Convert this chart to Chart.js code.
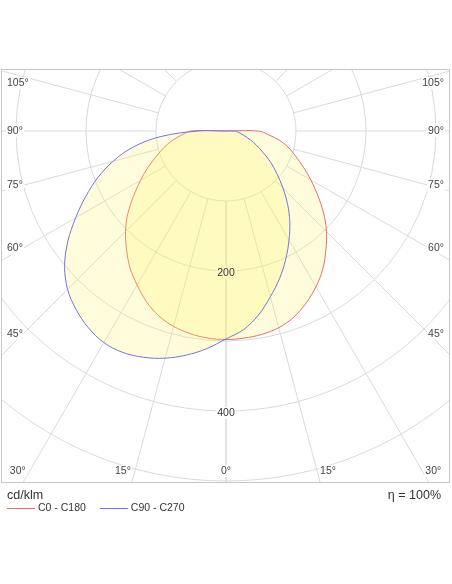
<!DOCTYPE html>
<html>
<head>
<meta charset="utf-8">
<script src="https://cdn.jsdelivr.net/npm/chart.js@4.4.0/dist/chart.umd.min.js"></script>
<style>
  html, body { margin: 0; padding: 0; background: #fff; }
  #wrap { width: 452px; height: 584px; }
</style>
</head>
<body>
<div id="wrap"><canvas id="ldc" width="452" height="584"></canvas></div>
<script>
/* gamma angle from nadir (deg) and luminous intensity (cd/klm) */
const gamma = [0, 5, 10, 15, 20, 25, 30, 35, 40, 45, 50, 55, 60, 65, 70, 75, 80, 85, 90];
const c0   = [298, 297, 295, 291, 283, 271, 257, 241, 222, 203, 182, 160, 140, 122, 106, 93, 78, 61, 46];
const c180 = [298, 297, 294, 289, 281, 269, 254, 239, 221, 203, 183, 161, 141, 123, 106, 92, 78, 63, 50];
const c90  = [297, 285, 267, 245, 224, 202, 180, 159, 137, 115, 95, 78, 61, 48, 37, 28, 22, 17, 14];
const c270 = [297, 312, 325, 336, 344, 349, 349, 343, 333, 320, 301, 276, 248, 221, 195, 167, 136, 95, 40];

/* grid */
const rings = [100, 200, 300, 400, 500, 600];
const ringLabels = [200, 400];
const spokes = [0, 15, 30, 45, 60, 75, 90, 105, 120, 135, 150, 165, 180];
const sideAngles = [45, 60, 75, 90, 105];
const bottomAngles = [-30, -15, 0, 15, 30];

const FONT = '"Liberation Sans", Arial, sans-serif';

/* left half (C180 / C270) drawn from 90 deg down to nadir, right half back up */
let toPoints = (left, right) => {
  const pts = [{x: 0, y: 0}];
  for (let i = gamma.length - 1; i >= 0; i--) {
    const a = gamma[i] * Math.PI / 180;
    pts.push({x: -left[i] * Math.sin(a), y: -left[i] * Math.cos(a)});
  }
  for (let i = 1; i < gamma.length; i++) {
    const a = gamma[i] * Math.PI / 180;
    pts.push({x: right[i] * Math.sin(a), y: -right[i] * Math.cos(a)});
  }
  pts.push({x: 0, y: 0});
  return pts;
};

let tagBox = (ctx, text, x, y, align) => {
  const w = ctx.measureText(text).width;
  const left = align === 'left' ? x : align === 'right' ? x - w : x - w / 2;
  ctx.fillStyle = '#fff';
  ctx.fillRect(left - 1, y - 6, w + 2, 12);
};

let tag = (ctx, text, x, y, align) => {
  tagBox(ctx, text, x, y, align);
  ctx.fillStyle = '#444';
  ctx.textAlign = align;
  ctx.fillText(text, x, y);
};

/*######## grid, frame and labels of the polar diagram ########*/
const polarGrid = {
  id: 'polarGrid',
  beforeDatasetsDraw(chart) {
    const {ctx, chartArea: a, scales: {x, y}} = chart;
    const cx = x.getPixelForValue(0);
    const cy = y.getPixelForValue(0);
    const px = (v) => x.getPixelForValue(v) - cx;

    ctx.save();
    ctx.beginPath();
    ctx.rect(a.left, a.top, a.width, a.height);
    ctx.clip();
    ctx.strokeStyle = '#dadada';
    ctx.lineWidth = 1;
    rings.forEach(r => {
      ctx.beginPath();
      ctx.arc(cx, cy, px(r), 0, 2 * Math.PI);
      ctx.stroke();
    });
    const r0 = px(rings[0]), r1 = px(1000);
    spokes.forEach(g => {
      const t = g * Math.PI / 180;
      [-1, 1].forEach(s => {
        ctx.beginPath();
        ctx.moveTo(cx + s * r0 * Math.sin(t), cy + r0 * Math.cos(t));
        ctx.lineTo(cx + s * r1 * Math.sin(t), cy + r1 * Math.cos(t));
        ctx.stroke();
      });
    });
    ctx.restore();

    ctx.save();
    ctx.strokeStyle = '#c8c8c8';
    ctx.lineWidth = 1;
    ctx.strokeRect(a.left + 0.5, a.top + 0.5, a.width - 1, a.height - 1);

    ctx.font = '10.5px ' + FONT;
    ctx.textBaseline = 'middle';
    /* angle labels on both sides */
    const dx = cx - (a.left + 22);
    sideAngles.forEach(g => {
      const t = g * Math.PI / 180;
      let ly = cy + dx * Math.cos(t) / Math.sin(t);
      ly = Math.max(ly, a.top + 14);
      tag(ctx, g + '°', a.left + 6, ly, 'left');
      tag(ctx, g + '°', a.right - 6, ly, 'right');
    });
    /* angle labels along the bottom */
    const yb = a.bottom - 12;
    bottomAngles.forEach(g => {
      const t = g * Math.PI / 180;
      const lx = cx + (yb - cy) * Math.tan(t);
      const txt = Math.abs(g) + '°';
      if (g < 0) tag(ctx, txt, lx - 4, yb, 'right');
      else if (g > 0) tag(ctx, txt, lx + 3, yb, 'left');
      else tag(ctx, txt, lx, yb, 'center');
    });
    /* clear the grid behind the intensity labels */
    ringLabels.forEach(r => {
      tagBox(ctx, String(r), cx, y.getPixelForValue(-r) + 2, 'center');
    });
    ctx.restore();
  },
  afterDatasetsDraw(chart) {
    const {ctx, scales: {x, y}} = chart;
    const cx = x.getPixelForValue(0);
    ctx.save();
    ctx.font = '10.5px ' + FONT;
    ctx.textBaseline = 'middle';
    ctx.textAlign = 'center';
    ctx.fillStyle = '#333';
    ringLabels.forEach(r => {
      ctx.fillText(String(r), cx, y.getPixelForValue(-r) + 2);
    });
    ctx.restore();
  },
  afterDraw(chart) {
    const {ctx, chartArea: a} = chart;
    ctx.save();
    ctx.textBaseline = 'middle';
    ctx.fillStyle = '#333';
    ctx.font = '12.5px ' + FONT;
    ctx.textAlign = 'left';
    ctx.fillText('cd/klm', a.left + 6, a.bottom + 13);
    ctx.textAlign = 'right';
    ctx.fillText('\u03b7 = 100%', a.right - 9, a.bottom + 13);

    ctx.font = '10.5px ' + FONT;
    ctx.textAlign = 'left';
    let lx = a.left + 6;
    const ly = a.bottom + 25;
    chart.data.datasets.slice().reverse().forEach(ds => {
      ctx.strokeStyle = ds.borderColor;
      ctx.lineWidth = 1;
      ctx.beginPath();
      ctx.moveTo(lx, ly + 0.5);
      ctx.lineTo(lx + 28, ly + 0.5);
      ctx.stroke();
      ctx.fillStyle = '#333';
      ctx.fillText(ds.label, lx + 31, ly);
      lx += 31 + ctx.measureText(ds.label).width + 14;
    });
    ctx.restore();
  }
};

/*######## chart ########*/
const ctx = document.getElementById('ldc');
const config = {
  type: 'scatter',
  data: {
    datasets: [
      {
        label: 'C90 - C270',
        data: toPoints(c270, c90),
        showLine: true,
        borderColor: 'rgb(115, 115, 225)',
        backgroundColor: 'rgba(255, 240, 90, 0.22)',
        borderWidth: 1,
        fill: 'shape',
        tension: 0.35,
        pointRadius: 0
      },
      {
        label: 'C0 - C180',
        data: toPoints(c180, c0),
        showLine: true,
        borderColor: 'rgb(228, 110, 110)',
        backgroundColor: 'rgba(255, 240, 90, 0.22)',
        borderWidth: 1,
        fill: 'shape',
        tension: 0.35,
        pointRadius: 0
      }
    ]
  },
  options: {
    responsive: false,
    animation: false,
    events: [],
    layout: { padding: { left: 1, right: 2, top: 69, bottom: 101 } },
    scales: {
      x: { type: 'linear', min: -321.43, max: 320, display: false },
      y: { type: 'linear', min: -502.86, max: 88.57, display: false }
    },
    plugins: {
      legend: { display: false },
      tooltip: { enabled: false }
    }
  },
  plugins: [polarGrid]
};
const chart = new Chart(ctx, config);
</script>
</body>
</html>
